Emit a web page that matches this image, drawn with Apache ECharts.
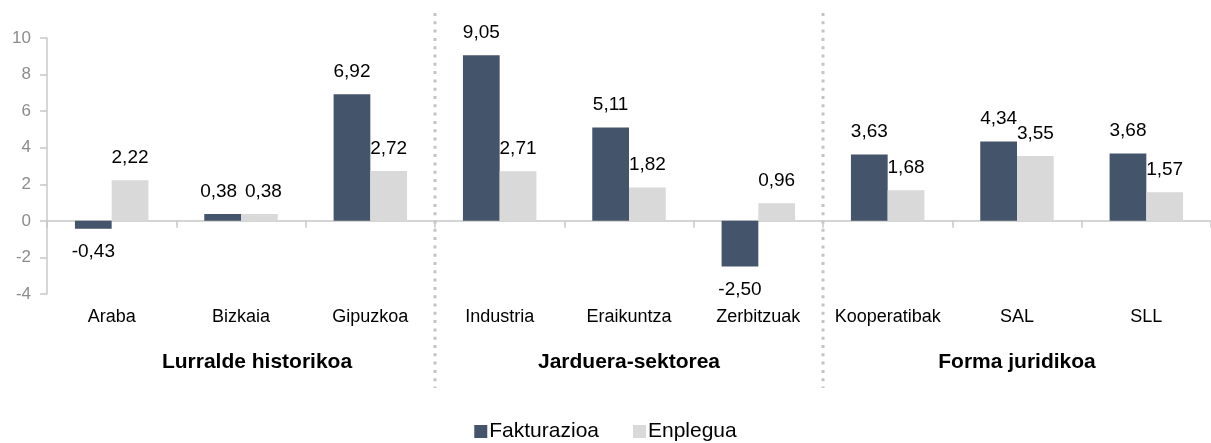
<!DOCTYPE html>
<html>
<head>
<meta charset="utf-8">
<script src="https://cdn.jsdelivr.net/npm/echarts@6/dist/echarts.min.js"></script>
<style>
  html, body { margin: 0; padding: 0; background: #fff; }
  #chart { width: 1211px; height: 443px; }
</style>
</head>
<body>
<div id="chart"></div>
<script>
var categories = ['Araba', 'Bizkaia', 'Gipuzkoa', 'Industria', 'Eraikuntza', 'Zerbitzuak', 'Kooperatibak', 'SAL', 'SLL'];
var groups = ['Lurralde historikoa', 'Jarduera-sektorea', 'Forma juridikoa'];
var fakturazioa = [-0.43, 0.38, 6.92, 9.05, 5.11, -2.50, 3.63, 4.34, 3.68];
var enplegua = [2.22, 0.38, 2.72, 2.71, 1.82, 0.96, 1.68, 3.55, 1.57];

var font = 'Liberation Sans, Arial, sans-serif';

// side: -1 for the first series, 1 for the second; labels of equal-height bars are pushed apart
function items(arr, other, side) {
  return arr.map(function (v, i) {
    var close = Math.abs(v - other[i]) < 0.5;
    return {
      value: v,
      label: {
        position: v < 0 ? 'bottom' : 'top',
        distance: v < 0 ? 14 : 13,
        offset: close ? [side * 4, 0] : [0, 0]
      }
    };
  });
}
function fmt(p) {
  return p.value.toFixed(2).replace('.', ',');
}

var myChart = echarts.init(document.getElementById('chart'));
var option = {
  animation: false,
  textStyle: { fontFamily: font },
  grid: { left: 47, right: -8, top: 38, bottom: 149, containLabel: false },
  legend: {
    top: 416,
    left: 'center',
    icon: 'rect',
    itemWidth: 13,
    itemHeight: 13,
    itemGap: 34,
    textStyle: { fontFamily: font, fontSize: 21, color: '#000', padding: [0, 0, 0, -3] },
    data: ['Fakturazioa', 'Enplegua']
  },
  xAxis: [
    {
      type: 'category',
      data: categories,
      axisLine: { onZero: true, lineStyle: { color: '#C8C8C8', width: 1.5 } },
      axisTick: { show: true, length: 7, lineStyle: { color: '#C8C8C8', width: 1.5 } },
      axisLabel: { show: false }
    },
    {
      type: 'category',
      data: categories,
      position: 'bottom',
      axisLine: { show: false, onZero: false },
      axisTick: { show: false },
      axisLabel: { fontFamily: font, fontSize: 18, color: '#000', margin: 14, interval: 0 }
    },
    {
      type: 'category',
      data: groups,
      position: 'bottom',
      axisLine: { show: false, onZero: false },
      axisTick: { show: false },
      axisLabel: {
        fontFamily: font, fontSize: 21, fontWeight: 'bold', color: '#000', margin: 58, interval: 0,
        formatter: function (v, i) { return i === 0 ? '{a|' + v + '}' : v; },
        rich: { a: { fontFamily: font, fontSize: 21, fontWeight: 'bold', color: '#000', padding: [0, 0, 0, 32] } }
      }
    }
  ],
  yAxis: {
    type: 'value',
    min: -4,
    max: 10,
    interval: 2,
    splitLine: { show: false },
    axisLine: { show: true, lineStyle: { color: '#C8C8C8', width: 1.5 } },
    axisTick: { show: true, length: 7, lineStyle: { color: '#C8C8C8', width: 1.5 } },
    axisLabel: { fontFamily: font, fontSize: 17, color: '#8C8C8C', margin: 16 }
  },
  series: [
    {
      name: 'Fakturazioa',
      type: 'bar',
      barWidth: '28.4%',
      barGap: '0%',
      itemStyle: { color: '#44546A' },
      label: { show: true, fontFamily: font, fontSize: 19, color: '#000', formatter: fmt },
      data: items(fakturazioa, enplegua, -1)
    },
    {
      name: 'Enplegua',
      type: 'bar',
      barWidth: '28.4%',
      barGap: '0%',
      itemStyle: { color: '#D9D9D9' },
      label: { show: true, fontFamily: font, fontSize: 19, color: '#000', formatter: fmt },
      data: items(enplegua, fakturazioa, 1)
    }
  ]
};
myChart.setOption(option);

// dotted separators between the groups
var seps = [];
[3, 6].forEach(function (i) {
  var a = myChart.convertToPixel({ xAxisIndex: 0 }, i - 1);
  var b = myChart.convertToPixel({ xAxisIndex: 0 }, i);
  var x = Math.round((a + b) / 2);
  seps.push({
    type: 'line',
    shape: { x1: x, y1: 13, x2: x, y2: 388 },
    style: { stroke: '#C4C4C4', lineWidth: 3, lineDash: [3, 5.3], lineCap: 'butt' },
    silent: true
  });
});
myChart.setOption({ graphic: seps });
</script>
</body>
</html>
